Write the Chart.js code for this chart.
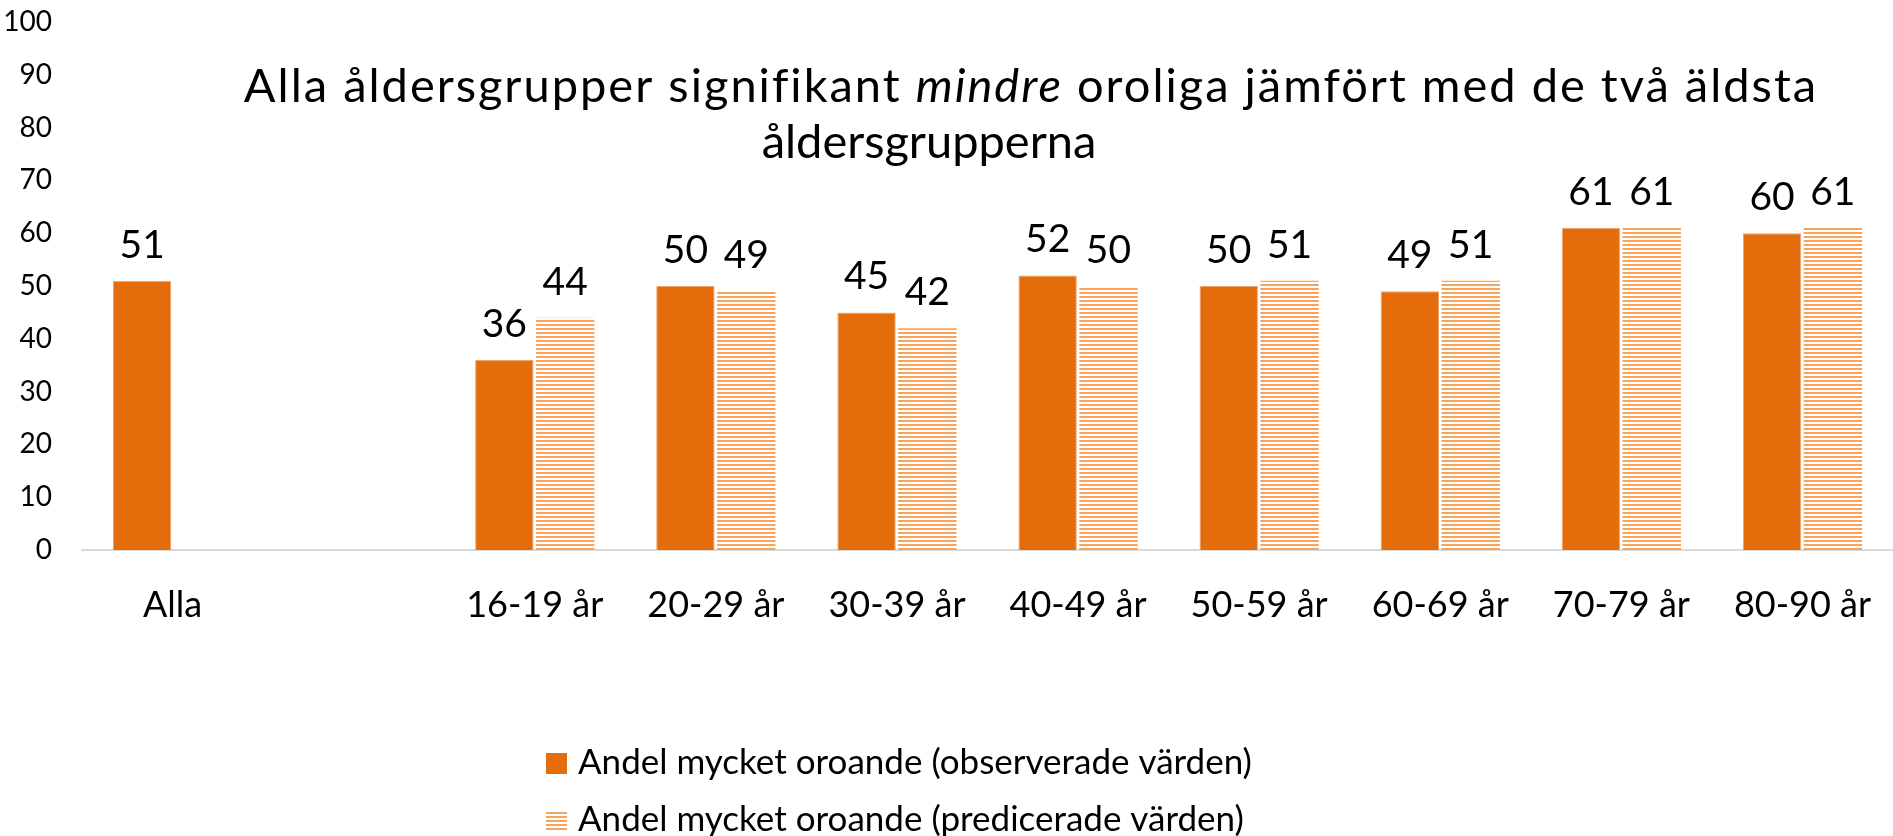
<!DOCTYPE html>
<html>
<head>
<meta charset="utf-8">
<script src="https://cdn.jsdelivr.net/npm/chart.js@4.4.0/dist/chart.umd.min.js"></script>
<style>
  html, body { margin: 0; padding: 0; background: #fff; }
  canvas { display: block; }
</style>
</head>
<body>
<canvas id="chart" width="1893" height="836"></canvas>
<script>
// data
const categories = ['Alla', '', '16-19 år', '20-29 år', '30-39 år', '40-49 år', '50-59 år', '60-69 år', '70-79 år', '80-90 år'];
const observed = [51, null, 36, 50, 45, 52, 50, 49, 61, 60];
const predicted = [null, null, 44, 49, 42, 50, 51, 51, 61, 61];
const yTicks = [0, 10, 20, 30, 40, 50, 60, 70, 80, 90, 100];
const seriesNames = ['Andel mycket oroande (observerade värden)', 'Andel mycket oroande (predicerade värden)'];
const titleLine1 = ['Alla åldersgrupper signifikant ', 'mindre', ' oroliga jämfört med de två äldsta'];
const titleLine2 = 'åldersgrupperna';

const FONT = 'Lato';
const ORANGE = '#E46C0A';
const LIGHT = '#F7A35C';

function stripes(ctx) {
  const c = document.createElement('canvas');
  c.width = 4; c.height = 4;
  const g = c.getContext('2d');
  g.fillStyle = '#fff';
  g.fillRect(0, 0, 4, 4);
  g.fillStyle = LIGHT;
  g.fillRect(0, 0, 4, 2);
  return ctx.createPattern(c, 'repeat');
}

// value labels above bars
const valueLabels = {
  id: 'valueLabels',
  afterDatasetsDraw(chart) {
    const ctx = chart.ctx;
    ctx.save();
    ctx.font = '39px ' + FONT;
    ctx.fillStyle = '#000';
    ctx.textAlign = 'center';
    ctx.textBaseline = 'alphabetic';
    chart.data.datasets.forEach((ds, i) => {
      chart.getDatasetMeta(i).data.forEach((bar, j) => {
        if (ds.data[j] == null) return;
        ctx.fillText(String(ds.data[j]), bar.x, bar.y - 23);
      });
    });
    ctx.restore();
  }
};

// title drawn over the plot, with italic word
const overlayTitle = {
  id: 'overlayTitle',
  afterDraw(chart) {
    const ctx = chart.ctx;
    ctx.save();
    ctx.fillStyle = '#000';
    ctx.textBaseline = 'alphabetic';
    ctx.textAlign = 'left';
    const size = 47;
    const fonts = [size + 'px ' + FONT, 'italic ' + size + 'px ' + FONT, size + 'px ' + FONT];
    ctx.letterSpacing = '2px';
    const widths = titleLine1.map((t, i) => { ctx.font = fonts[i]; return ctx.measureText(t).width; });
    const total = widths.reduce((a, b) => a + b, 0);
    let x = 1031 - total / 2;
    titleLine1.forEach((t, i) => {
      ctx.font = fonts[i];
      ctx.fillText(t, x, 102);
      x += widths[i];
    });
    ctx.letterSpacing = '0px';
    ctx.font = fonts[0];
    ctx.textAlign = 'center';
    ctx.fillText(titleLine2, 929, 158);
    ctx.restore();
  }
};

// legend, one series per row
const rowLegend = {
  id: 'rowLegend',
  afterDraw(chart) {
    const ctx = chart.ctx;
    ctx.save();
    ctx.font = '35px ' + FONT;
    ctx.textBaseline = 'middle';
    ctx.textAlign = 'left';
    chart.data.datasets.forEach((ds, i) => {
      const y = 763 + i * 57;
      ctx.fillStyle = ds.backgroundColor;
      ctx.fillRect(546, y - 10, 21, 21);
      ctx.fillStyle = '#000';
      ctx.fillText(ds.label, 578, y);
    });
    ctx.restore();
  }
};

const canvas = document.getElementById('chart');
const ctx = canvas.getContext('2d');

new Chart(ctx, {
  type: 'bar',
  data: {
    labels: categories,
    datasets: [
      {
        label: seriesNames[0],
        data: observed,
        backgroundColor: ORANGE,
        borderColor: '#F0A46A',
        borderWidth: 1
      },
      {
        label: seriesNames[1],
        data: predicted,
        backgroundColor: stripes(ctx),
        borderWidth: 0
      }
    ]
  },
  options: {
    responsive: false,
    animation: false,
    layout: { padding: { top: 22, left: 5, right: 0, bottom: 209 } },
    datasets: { bar: { categoryPercentage: 0.672, barPercentage: 0.96 } },
    plugins: {
      legend: { display: false },
      tooltip: { enabled: false },
      title: { display: false }
    },
    scales: {
      x: {
        grid: { display: false, drawTicks: false },
        border: { display: true, color: '#d9d9d9', width: 2 },
        ticks: { color: '#000', font: { family: FONT, size: 36 }, padding: 34, maxRotation: 0, autoSkip: false },
        afterFit(s) { s.height = 77; s.paddingLeft = 0; s.paddingRight = 0; }
      },
      y: {
        min: yTicks[0],
        max: yTicks[yTicks.length - 1],
        grid: { display: false, drawTicks: false },
        border: { display: false },
        ticks: { stepSize: yTicks[1] - yTicks[0], color: '#000', font: { family: FONT, size: 28 }, padding: 30 },
        afterFit(s) { s.width = 77; s.paddingTop = 0; s.paddingBottom = 0; }
      }
    }
  },
  plugins: [valueLabels, overlayTitle, rowLegend]
});
</script>
</body>
</html>
